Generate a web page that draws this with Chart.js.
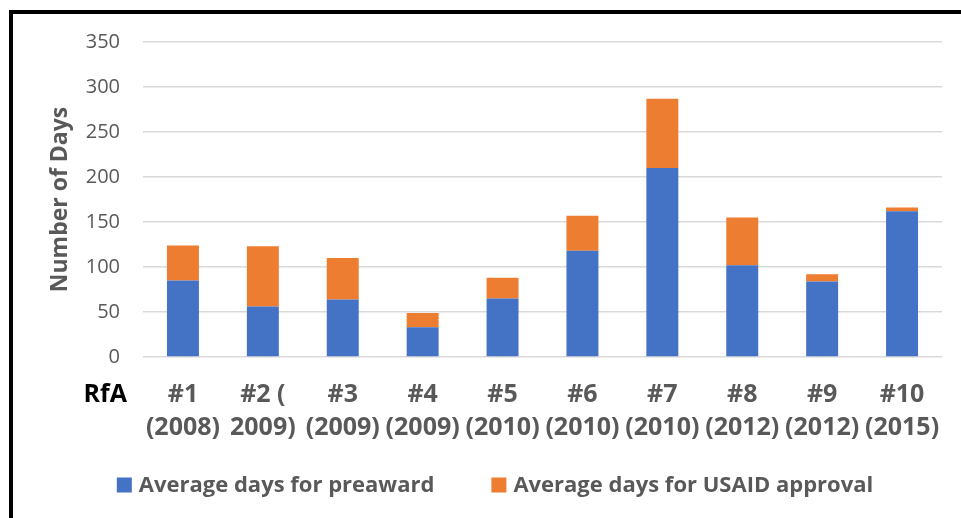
<!DOCTYPE html>
<html>
<head>
<meta charset="utf-8">
<script src="https://cdn.jsdelivr.net/npm/chart.js@4"></script>
<style>
  html, body { margin: 0; padding: 0; background: #fff; }
  #wrap { position: relative; width: 961px; height: 518px; overflow: hidden; }
  #frame { position: absolute; left: 9px; top: 10px; width: 980px; height: 540px;
           border-top: 4px solid #000; border-left: 4px solid #000; pointer-events: none; }
  canvas { position: absolute; left: 0; top: 0; }
</style>
</head>
<body>
<div id="wrap">
  <canvas id="c" width="961" height="518"></canvas>
  <div id="frame"></div>
</div>
<script>
// RfA rounds (number and year)
const categories = [
  ['#1', '(2008)'], ['#2 (', '2009)'], ['#3', '(2009)'], ['#4', '(2009)'], ['#5', '(2010)'],
  ['#6', '(2010)'], ['#7', '(2010)'], ['#8', '(2012)'], ['#9', '(2012)'], ['#10', '(2015)']
];
// Average days spent in each stage
const preawardDays = [85, 56, 64, 33, 65, 118, 210, 102, 84, 162];
const approvalDays = [39, 67, 46, 16, 23, 39, 77, 53, 8, 4];
const yTicks = [0, 50, 100, 150, 200, 250, 300, 350];

const grey = '#595959';
const FONT = '"Open Sans", sans-serif';

// Bold "RfA" caption to the left of the category labels
const rfaLabel = {
  id: 'rfaLabel',
  afterDraw(chart) {
    const ctx = chart.ctx;
    ctx.save();
    ctx.font = 'bold 25px ' + FONT;
    ctx.fillStyle = '#000';
    ctx.textAlign = 'right';
    ctx.textBaseline = 'middle';
    ctx.fillText('RfA', chart.chartArea.left - 16, chart.chartArea.bottom + 38);
    ctx.restore();
  }
};

// Legend row below the axis labels, built from the datasets
const bottomLegend = {
  id: 'bottomLegend',
  afterDraw(chart) {
    const ctx = chart.ctx;
    const box = 15, gap = 7, spacing = 57, cy = 485, cx = 495;
    ctx.save();
    ctx.font = 'bold 22px ' + FONT;
    ctx.textBaseline = 'middle';
    ctx.textAlign = 'left';
    const items = chart.data.datasets.map(ds => ({
      text: ds.label, color: ds.backgroundColor, w: ctx.measureText(ds.label).width
    }));
    const total = items.reduce((s, it) => s + box + gap + it.w, 0) + spacing * (items.length - 1);
    let x = cx - total / 2;
    items.forEach(it => {
      ctx.fillStyle = it.color;
      ctx.fillRect(x, cy - box / 2, box, box);
      ctx.fillStyle = grey;
      ctx.fillText(it.text, x + box + gap, cy + 1);
      x += box + gap + it.w + spacing;
    });
    ctx.restore();
  }
};

new Chart(document.getElementById('c'), {
  type: 'bar',
  data: {
    labels: categories,
    datasets: [
      { label: 'Average days for preaward', data: preawardDays, backgroundColor: '#4472C4' },
      { label: 'Average days for USAID approval', data: approvalDays, backgroundColor: '#ED7D31' }
    ]
  },
  options: {
    responsive: false,
    animation: false,
    devicePixelRatio: 1,
    layout: { padding: { left: 48, right: 18, top: 42, bottom: 0 } },
    datasets: { bar: { categoryPercentage: 1, barPercentage: 0.4 } },
    scales: {
      x: {
        stacked: true,
        grid: { display: false, drawTicks: false },
        border: { display: false },
        ticks: {
          color: grey,
          font: { family: FONT, size: 25, weight: 'bold', lineHeight: 1.32 },
          padding: 21,
          maxRotation: 0,
          autoSkip: false
        },
        afterFit(scale) { scale.height = 161; }
      },
      y: {
        stacked: true,
        min: 0,
        max: 350,
        afterBuildTicks(scale) { scale.ticks = yTicks.map(v => ({ value: v })); },
        grid: { color: '#d9d9d9', lineWidth: 1.6, drawTicks: false },
        border: { display: false },
        ticks: {
          color: grey,
          font: { family: FONT, size: 20 },
          padding: 23
        },
        title: {
          display: true,
          text: 'Number of Days',
          color: grey,
          font: { family: FONT, size: 23, weight: 'bold', lineHeight: 1 },
          padding: { top: 1, bottom: 0 }
        },
        afterFit(scale) { scale.width = 95; }
      }
    },
    plugins: {
      tooltip: { enabled: false },
      legend: { display: false }
    }
  },
  plugins: [rfaLabel, bottomLegend]
});
</script>
</body>
</html>
